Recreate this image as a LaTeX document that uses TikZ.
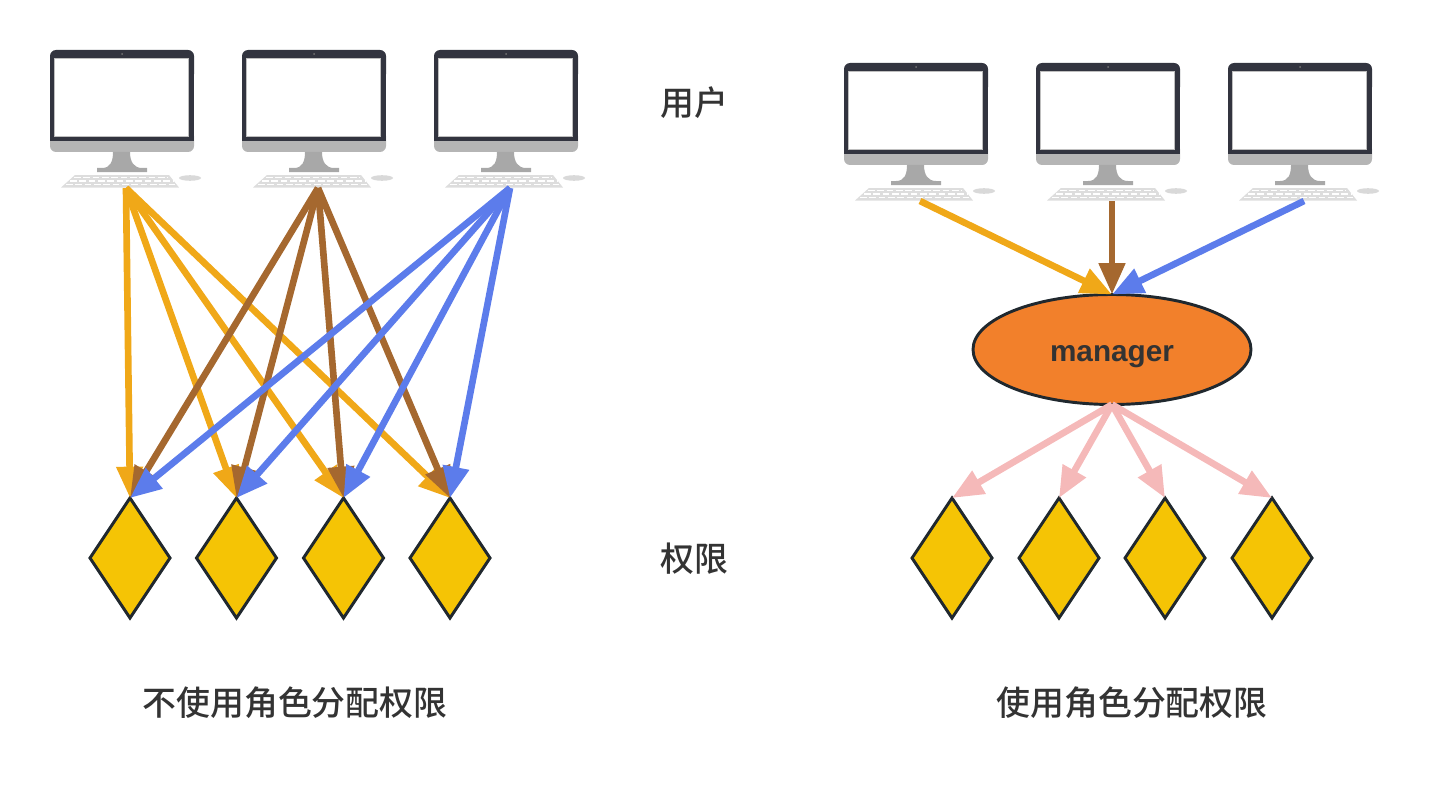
\documentclass[tikz,border=0pt]{standalone}
\usepackage{fontspec}
\setmainfont{Liberation Sans}
\newfontfamily\cjk{Noto Sans CJK SC Medium}
\usetikzlibrary{arrows.meta, shapes.geometric}

\definecolor{cOrange}{HTML}{F0A818}
\definecolor{cBrown}{HTML}{A5682F}
\definecolor{cBlue}{HTML}{5C7CEB}
\definecolor{cPink}{HTML}{F5B9B9}
\definecolor{cGold}{HTML}{F5C405}
\definecolor{cRole}{HTML}{F2802B}
\definecolor{cEdge}{HTML}{20282E}
\definecolor{cText}{HTML}{333333}
\definecolor{cFrame}{HTML}{32343F}
\definecolor{cChin}{HTML}{B5B5B5}
\definecolor{cStand}{HTML}{A8A8A8}
\definecolor{cKeys}{HTML}{DDDDDD}

\tikzset{
    perm/.style = {shape = diamond, draw = cEdge, fill = cGold, line width = 2.2pt, inner sep = 0, outer sep = 0, minimum width = 60pt, minimum height = 90pt},
    link/.style = {line width = 5pt, -{Triangle[length = 23.5pt, width = 19pt]}},
    title/.style = {text = cText, font = \cjk\fontsize{25.4}{30}\selectfont},
    monitor/.pic = {
        \fill [fill = cChin, rounded corners = 4.5pt] (0, 80) rectangle (144, 102);
        \fill [fill = cStand] (63, 102) -- (80, 102) .. controls (80, 112) and (84, 118) .. (92, 118) -- (97, 118) -- (97, 122) -- (47, 122) -- (47, 118) -- (52, 118) .. controls (60, 118) and (63, 112) .. (63, 102) -- cycle;
        \fill [fill = cKeys] (25, 125) -- (119, 125) -- (129, 137.5) -- (11, 137.5) -- cycle;
        \foreach \ky/\kl/\kr in {127.5/24/118, 131/20/124, 134.5/16/126} {
            \draw [white, line width = 1.4pt, dash pattern = on 5pt off 2pt] (\kl, \ky) -- (\kr, \ky);
        }
        \fill [fill = black!15] (140, 128) ellipse (11 and 2.8);
        \fill [fill = cFrame, rounded corners = 4.5pt] (0, 0) rectangle (144, 30);
        \fill [fill = cFrame] (0, 10) rectangle (144, 91);
        \fill [fill = white, draw = black!25, line width = 0.4pt] (4, 8) rectangle (138, 86);
        \fill [fill = black!55] (72, 4) circle (1);
        \coordinate (-key) at (76, 138);
    }
}

\begin{document}
\begin{tikzpicture}[x = 0.75pt, y = -0.75pt]

    \useasboundingbox (0, 0) rectangle (1430, 795);

    % left side
    \pic (a1) at (50, 50) {monitor};
    \pic (a2) at (242, 50) {monitor};
    \pic (a3) at (434, 50) {monitor};

    \node (p1) at (130, 558) [perm] {};
    \node (p2) at (236.5, 558) [perm] {};
    \node (p3) at (343.5, 558) [perm] {};
    \node (p4) at (450, 558) [perm] {};

    \draw [link, cOrange] (a1-key) -- (p1.north);
    \draw [link, cOrange] (a1-key) -- (p2.north);
    \draw [link, cOrange] (a1-key) -- (p3.north);
    \draw [link, cOrange] (a1-key) -- (p4.north);

    \draw [link, cBrown] (a2-key) -- (p1.north);
    \draw [link, cBrown] (a2-key) -- (p2.north);
    \draw [link, cBrown] (a2-key) -- (p3.north);
    \draw [link, cBrown] (a2-key) -- (p4.north);

    \draw [link, cBlue] (a3-key) -- (p1.north);
    \draw [link, cBlue] (a3-key) -- (p2.north);
    \draw [link, cBlue] (a3-key) -- (p3.north);
    \draw [link, cBlue] (a3-key) -- (p4.north);

    % right side
    \pic (b1) at (844, 63) {monitor};
    \pic (b2) at (1036, 63) {monitor};
    \pic (b3) at (1228, 63) {monitor};

    \node (role) at (1112, 349.5) [shape = ellipse, draw = cEdge, fill = cRole, line width = 2.2pt, inner sep = 0, outer sep = 0, minimum width = 208.5pt, minimum height = 82.5pt, text = cText, font = \bfseries\fontsize{22.3}{26}\selectfont] {\raisebox{-9pt}[0pt][0pt]{manager}};

    \node (q1) at (952, 558) [perm] {};
    \node (q2) at (1059, 558) [perm] {};
    \node (q3) at (1165, 558) [perm] {};
    \node (q4) at (1272, 558) [perm] {};

    \draw [link, cOrange] (b1-key) -- (role.north);
    \draw [link, cBrown] (b2-key) -- (role.north);
    \draw [link, cBlue] (b3-key) -- (role.north);

    \draw [link, cPink] (role.south) -- (q1.north);
    \draw [link, cPink] (role.south) -- (q2.north);
    \draw [link, cPink] (role.south) -- (q3.north);
    \draw [link, cPink] (role.south) -- (q4.north);

    % labels
    \node (t1) at (694, 103) [title] {用户};
    \node (t2) at (694, 559) [title] {权限};
    \node (t3) at (295, 703) [title] {不使用角色分配权限};
    \node (t4) at (1132, 703) [title] {使用角色分配权限};

\end{tikzpicture}
\end{document}
